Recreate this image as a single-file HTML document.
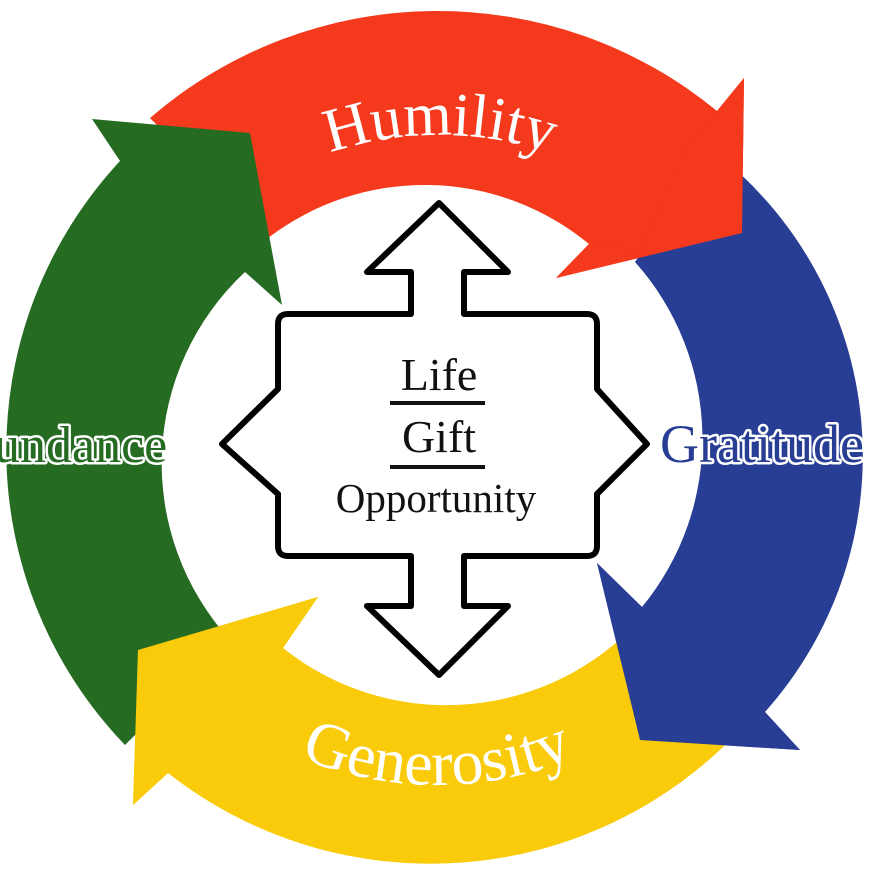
<!DOCTYPE html>
<html><head><meta charset="utf-8"><style>
html,body{margin:0;padding:0;background:#fff;}
svg{display:block;}
.halo{paint-order:stroke;stroke:#fff;stroke-width:5;stroke-linejoin:round;}
</style></head><body>
<svg width="870" height="870" viewBox="0 0 870 870" xmlns="http://www.w3.org/2000/svg" font-family="'Liberation Serif', serif">
<defs>
<path id="topArc" d="M95,480 A345,345 0 0,1 785,480"/>
<path id="botArc" d="M82,430 A355,355 0 0,0 792,430"/>
</defs>
<path fill="#f5391c" d="M150,118 A440,440 0 0,1 717,111 L744,78 L742,233 L556,278 L589,244 A258,258 0 0,0 268,238 Z"/>
<path fill="#283d94" d="M712,150 A385,385 0 0,1 765,712 L800,750 L640,740 L597,563 L642,607 A265,265 0 0,0 635,262 Z"/>
<path fill="#f9cb0a" d="M138,650 L318,597 L283,648 A262,262 0 0,0 630,630 L740,730 A425,425 0 0,1 168,773 L133,805 Z"/>
<path fill="#266b22" d="M230,640 L125,745 A425,425 0 0,1 120,161 L92,119 L250,133 L282,305 L245,272 A262,262 0 0,0 230,640 Z"/>
<path fill="#f5391c" d="M690,140 L717,111 L744,78 L742,233 L556,278 L589,244 L640,250 Z"/>
<path fill="#283d94" d="M765,712 L800,750 L640,740 L597,563 L642,607 L700,600 Z"/>
<path fill="#f9cb0a" d="M138,650 L318,597 L283,648 L250,700 L168,773 L133,805 Z"/>

<text font-size="62" fill="#fff" text-anchor="middle"><textPath href="#topArc" startOffset="50%">Humility</textPath></text>
<text font-size="64" fill="#fff" text-anchor="middle"><textPath href="#botArc" startOffset="50%">Generosity</textPath></text>
<text class="halo" x="-6" y="462" font-size="52" fill="#266b22">undance</text>
<text class="halo" x="660" y="462" font-size="54" fill="#283d94">Gratitude</text>

<path fill="#fff" stroke="#000" stroke-width="6" stroke-linejoin="round" d="M288,314 L411,314 L411,272 L367,272 L439,203 L508,272 L464,272 L464,314 L587,314 Q597,314 597,324 L597,389 L647,444 L597,494 L597,546 Q597,556 587,556 L464,556 L464,606 L508,606 L439,675 L367,606 L411,606 L411,556 L288,556 Q278,556 278,546 L278,494 L222,444 L278,389 L278,324 Q278,314 288,314 Z"/>
<text x="439" y="390" font-size="46" text-anchor="middle" fill="#111">Life</text>
<rect x="390" y="401" width="95" height="4" fill="#111"/>
<text x="439" y="452" font-size="46" text-anchor="middle" fill="#111">Gift</text>
<rect x="390" y="465" width="95" height="4" fill="#111"/>
<text x="436" y="512" font-size="41" text-anchor="middle" fill="#111">Opportunity</text>
</svg>
</body></html>
